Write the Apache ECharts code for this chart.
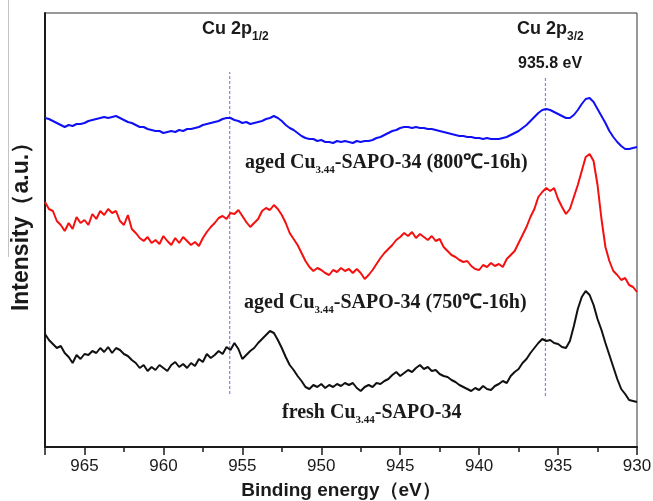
<!DOCTYPE html>
<html>
<head>
<meta charset="utf-8">
<script src="https://cdn.jsdelivr.net/npm/echarts@6/dist/echarts.min.js"></script>
<style>
  html, body { margin: 0; padding: 0; background: #ffffff; }
  #chart { width: 653px; height: 501px; }
</style>
</head>
<body>
<div id="chart"></div>
<script>
// Binding energy grid (eV), 967.5 -> 930 in 0.25 eV steps
const eStart = 967.5, eStep = 0.25, nPts = 151;
const energies = [];
for (let i = 0; i < nPts; i++) energies.push(+(eStart - i * eStep).toFixed(2));

const xTicks = [965, 960, 955, 950, 945, 940, 935, 930];

// aged Cu3.44-SAPO-34 (800°C-16h)
const blueSpectrum = [
  329,328,326,324,322,320,322,321,323,323,
  324,326,327,328,329,330,329,330,331,329,
  327,325,324,322,320,320,318,317,316,316,
  314,315,316,315,317,316,318,318,319,320,
  322,323,324,325,326,328,329,329,327,326,
  324,325,323,324,325,326,328,329,331,329,
  326,322,319,317,314,311,309,308,308,306,
  307,305,305,304,306,305,306,305,304,306,
  305,306,306,307,309,310,312,314,316,317,
  319,320,320,319,320,319,319,318,318,317,
  316,315,314,313,312,311,311,310,310,309,
  309,308,309,308,308,308,309,310,312,314,
  316,319,322,326,330,334,337,338,337,335,
  333,331,329,329,332,337,343,348,349,345,
  338,331,324,316,310,305,301,298,298,299,
  300
];

// aged Cu3.44-SAPO-34 (750°C-16h)
const redSpectrum = [
  245,238,236,226,222,216,224,218,230,224,
  227,222,233,228,236,232,238,234,236,226,
  222,232,218,214,209,206,210,204,207,203,
  211,206,202,209,204,210,206,202,205,201,
  209,215,220,224,229,231,228,234,233,237,
  231,225,220,224,228,236,239,237,242,238,
  232,224,214,208,202,194,186,180,176,179,
  177,174,172,177,175,179,176,178,174,178,
  174,168,172,177,183,189,194,198,202,207,
  210,214,211,215,209,213,210,207,211,206,
  208,200,196,192,190,187,185,186,181,178,
  177,182,180,184,181,183,180,188,192,196,
  204,212,220,230,238,250,255,259,256,259,
  248,240,233,238,250,262,276,290,293,286,
  262,228,200,186,176,172,167,169,162,160,
  155
];

// fresh Cu3.44-SAPO-34
const blackSpectrum = [
  113,107,103,99,101,94,90,84,92,88,
  93,92,96,94,99,95,100,94,99,97,
  93,91,87,84,79,82,76,80,77,82,
  79,76,82,85,80,83,79,84,81,88,
  85,93,89,92,96,93,100,97,104,98,
  88,92,96,99,104,108,112,116,114,107,
  99,90,82,77,71,66,60,58,62,60,
  63,59,62,60,63,61,64,62,64,59,
  56,60,62,60,64,63,66,68,72,75,
  71,74,77,75,79,82,78,80,76,77,
  73,71,70,67,65,62,60,58,56,59,
  57,61,58,57,61,63,66,64,71,75,
  78,84,88,94,99,104,108,106,107,104,
  103,100,99,106,121,138,150,156,152,142,
  128,117,104,92,80,68,58,53,47,46,
  45
];

// reference lines (eV) and their vertical extents (intensity units)
const refLines = [955.8, 935.8];
const refLineSpan = [[53, 375], [51, 370]];

function pairs(arr) { return energies.map((e, i) => [e, arr[i]]); }

const chart = echarts.init(document.getElementById('chart'), null, { renderer: 'canvas' });

const SANS = 'Arial, "Liberation Sans", Helvetica, sans-serif';
const SERIF = '"Times New Roman", "Liberation Serif", serif';

// measure text widths for composing labels with subscripts
const mctx = document.createElement('canvas').getContext('2d');
function tw(text, font) { mctx.font = font; return mctx.measureText(text).width; }

function run(x, y, parts) {
  const els = [];
  let cx = x;
  parts.forEach(p => {
    els.push({
      type: 'text', x: cx, y: y + (p.dy || 0), silent: true,
      style: { text: p.t, font: p.f, fill: '#1a1a1a', verticalAlign: 'middle', align: 'left' }
    });
    cx += tw(p.t, p.f) + (p.gap || 0);
  });
  return els;
}

const fCu = 'bold 18px ' + SANS;
const fCuSub = 'bold 12px ' + SANS;
const fLab = 'bold 20px ' + SERIF;
const fLabSub = 'bold 11px ' + SERIF;

let graphics = [];
graphics = graphics.concat(run(202, 29, [{ t: 'Cu 2p', f: fCu }, { t: '1/2', f: fCuSub, dy: 8 }]));
graphics = graphics.concat(run(517, 29, [{ t: 'Cu 2p', f: fCu }, { t: '3/2', f: fCuSub, dy: 8 }]));
graphics.push({ type: 'text', x: 518, y: 64, silent: true,
  style: { text: '935.8 eV', font: 'bold 16px ' + SANS, fill: '#1a1a1a', verticalAlign: 'middle' } });
graphics = graphics.concat(run(245, 163, [{ t: 'aged Cu', f: fLab }, { t: '3.44', f: fLabSub, dy: 7 }, { t: '-SAPO-34 (800\u2103-16h)', f: fLab }]));
graphics = graphics.concat(run(244, 303, [{ t: 'aged Cu', f: fLab }, { t: '3.44', f: fLabSub, dy: 7 }, { t: '-SAPO-34 (750\u2103-16h)', f: fLab }]));
graphics = graphics.concat(run(282, 413, [{ t: 'fresh Cu', f: fLab }, { t: '3.44', f: fLabSub, dy: 7 }, { t: '-SAPO-34', f: fLab }]));
// y axis title
graphics.push({ type: 'text', x: 22, y: 221, rotation: Math.PI / 2, silent: true,
  style: { text: 'Intensity\uFF08a.u.\uFF09', font: 'bold 23px ' + SANS, fill: '#1a1a1a', align: 'center', verticalAlign: 'middle' } });
// scan artefact line at the left edge
graphics.push({ type: 'line', silent: true, shape: { x1: 8.5, y1: 0, x2: 8.5, y2: 257 }, style: { stroke: '#c4c4c4', lineWidth: 1 } });

const refSeries = refLines.map((e, i) => ({
  type: 'line', data: [[e, refLineSpan[i][0]], [e, refLineSpan[i][1]]], showSymbol: false, silent: true, z: 2,
  lineStyle: { color: '#8282ee', width: 1.2, type: [3, 2] }
}));

const option = {
  backgroundColor: '#ffffff',
  animation: false,
  grid: { left: 45, right: 16, top: 13, bottom: 54, show: true, borderColor: '#333', borderWidth: 1,
          backgroundColor: 'transparent', outerBoundsMode: 'none', containLabel: false },
  xAxis: {
    type: 'value', min: 930, max: 967.5, interval: 5, inverse: true,
    name: 'Binding energy\uFF08eV\uFF09', nameLocation: 'middle', nameGap: 34,
    nameTextStyle: { fontFamily: SANS, fontWeight: 'bold', fontSize: 19, color: '#1a1a1a' },
    axisLine: { show: true, onZero: false, lineStyle: { color: '#1a1a1a', width: 2 } },
    axisTick: { show: true, inside: false, length: 8, lineStyle: { color: '#1a1a1a', width: 1.5 } },
    minorTick: { show: true, splitNumber: 2, length: 5, lineStyle: { color: '#1a1a1a', width: 1.5 } },
    axisLabel: {
      fontFamily: SANS, fontSize: 17, color: '#1a1a1a', margin: 11,
      formatter: v => (xTicks.indexOf(v) >= 0 ? String(v) : '')
    },
    splitLine: { show: false }
  },
  yAxis: {
    type: 'value', min: 0, max: 434,
    axisLine: { show: true, lineStyle: { color: '#1a1a1a', width: 2 } },
    axisTick: { show: false }, axisLabel: { show: false }, splitLine: { show: false }
  },
  series: refSeries.concat([
    { type: 'line', data: pairs(blueSpectrum), showSymbol: false, z: 3, lineStyle: { color: '#1010f5', width: 2 } },
    { type: 'line', data: pairs(redSpectrum), showSymbol: false, z: 3, lineStyle: { color: '#f51010', width: 2 } },
    { type: 'line', data: pairs(blackSpectrum), showSymbol: false, z: 3, lineStyle: { color: '#111111', width: 2 } }
  ]),
  graphic: graphics
};
chart.setOption(option);
</script>
</body>
</html>
